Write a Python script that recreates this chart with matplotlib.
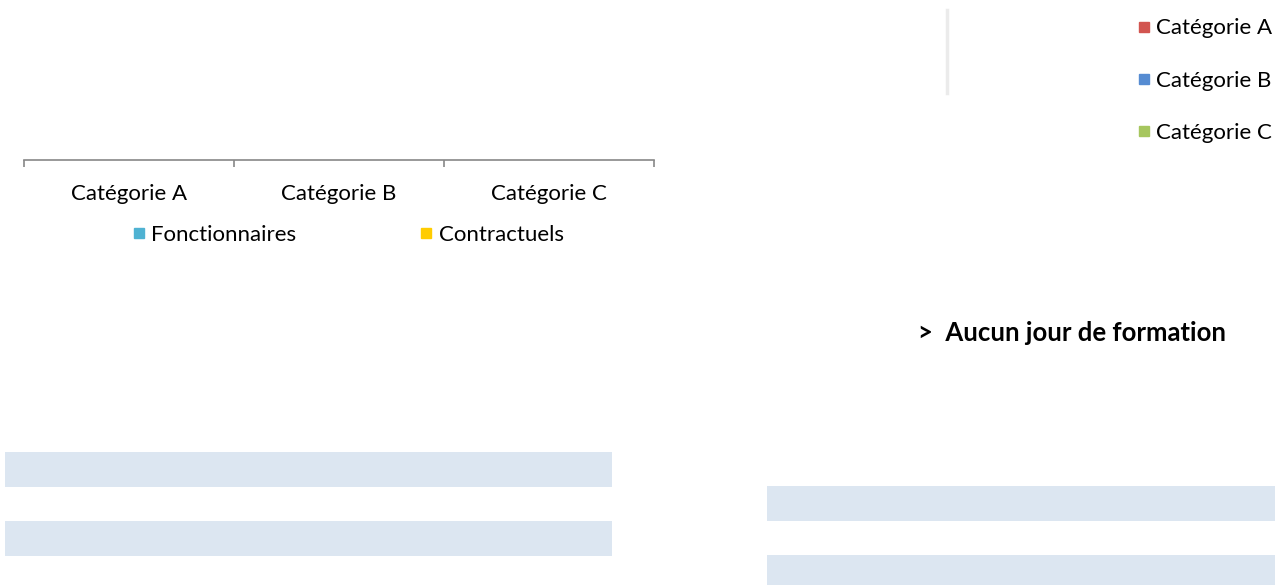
import matplotlib.pyplot as plt
from matplotlib.lines import Line2D

plt.rcParams['font.family'] = ['Lato', 'DejaVu Sans']

# data
categories = ['Catégorie A', 'Catégorie B', 'Catégorie C']
status_labels = ['Fonctionnaires', 'Contractuels']
status_colors = ['#4FB2D2', '#FFCC00']
cat_colors = ['#D25550', '#568CD2', '#A6C65E']
section_title = '>  Aucun jour de formation'
left_rows = [0, 1]
right_rows = [0, 1]

W, H = 1275, 585
FS = 16
fig = plt.figure(figsize=(W / 100, H / 100), dpi=100)


def box(x0, y0, x1, y1):
    # pixel box (top-left origin) -> figure fraction
    return [x0 / W, 1 - y1 / H, (x1 - x0) / W, (y1 - y0) / H]


# background layer for table shading
bg = fig.add_axes([0, 0, 1, 1])
bg.set_xlim(0, W)
bg.set_ylim(H, 0)
bg.axis('off')
band = '#DCE6F1'
bg.barh([469 + 69 * r for r in left_rows], 607, left=5, height=35, color=band)
bg.barh([503.5 + 69 * r for r in right_rows], 508, left=767, height=35, color=band)
bg.text(918, 333, section_title, fontsize=18.5, fontweight='bold',
        va='center', ha='left', color='black')

# left chart: category axis only
ax = fig.add_axes(box(24, 20, 654, 160))
ax.set_xlim(0, len(categories))
ax.set_ylim(0, 1)
for s in ['top', 'right', 'left']:
    ax.spines[s].set_visible(False)
ax.spines['bottom'].set_color('#888888')
ax.spines['bottom'].set_linewidth(1.2)
ax.set_yticks([])
ax.set_xticks(range(len(categories) + 1))
ax.set_xticklabels([])
ax.tick_params(axis='x', which='major', length=5, color='#888888', width=1.2)
ax.set_xticks([i + 0.5 for i in range(len(categories))], minor=True)
ax.set_xticklabels(categories, minor=True, fontsize=FS)
ax.tick_params(axis='x', which='minor', length=0, pad=17)
ax.patch.set_alpha(0)

handles = [Line2D([], [], marker='s', ls='', color=c, markersize=7.2) for c in status_colors]
fig.legend(handles, status_labels, loc='center left', bbox_to_anchor=(133.5 / W, 1 - 235 / H),
           ncol=2, frameon=False, fontsize=FS, handletextpad=0.3, borderpad=0,
           borderaxespad=0, columnspacing=5.6, handlelength=0.5)

# right chart: pie area edge and legend
ax2 = fig.add_axes(box(947, 10, 960, 93))
for s in ['top', 'right', 'bottom']:
    ax2.spines[s].set_visible(False)
ax2.spines['left'].set_color('#EBEBEB')
ax2.spines['left'].set_linewidth(2.5)
ax2.set_xticks([])
ax2.set_yticks([])
ax2.patch.set_alpha(0)

handles2 = [Line2D([], [], marker='s', ls='', color=c, markersize=7.2) for c in cat_colors]
fig.legend(handles2, categories, loc='upper left', bbox_to_anchor=(1138.5 / W, 1 - 18.5 / H),
           frameon=False, fontsize=FS, handletextpad=0.3, labelspacing=1.45,
           handlelength=0.5, borderpad=0, borderaxespad=0)

fig.savefig('out.png', dpi=100, facecolor='white')
